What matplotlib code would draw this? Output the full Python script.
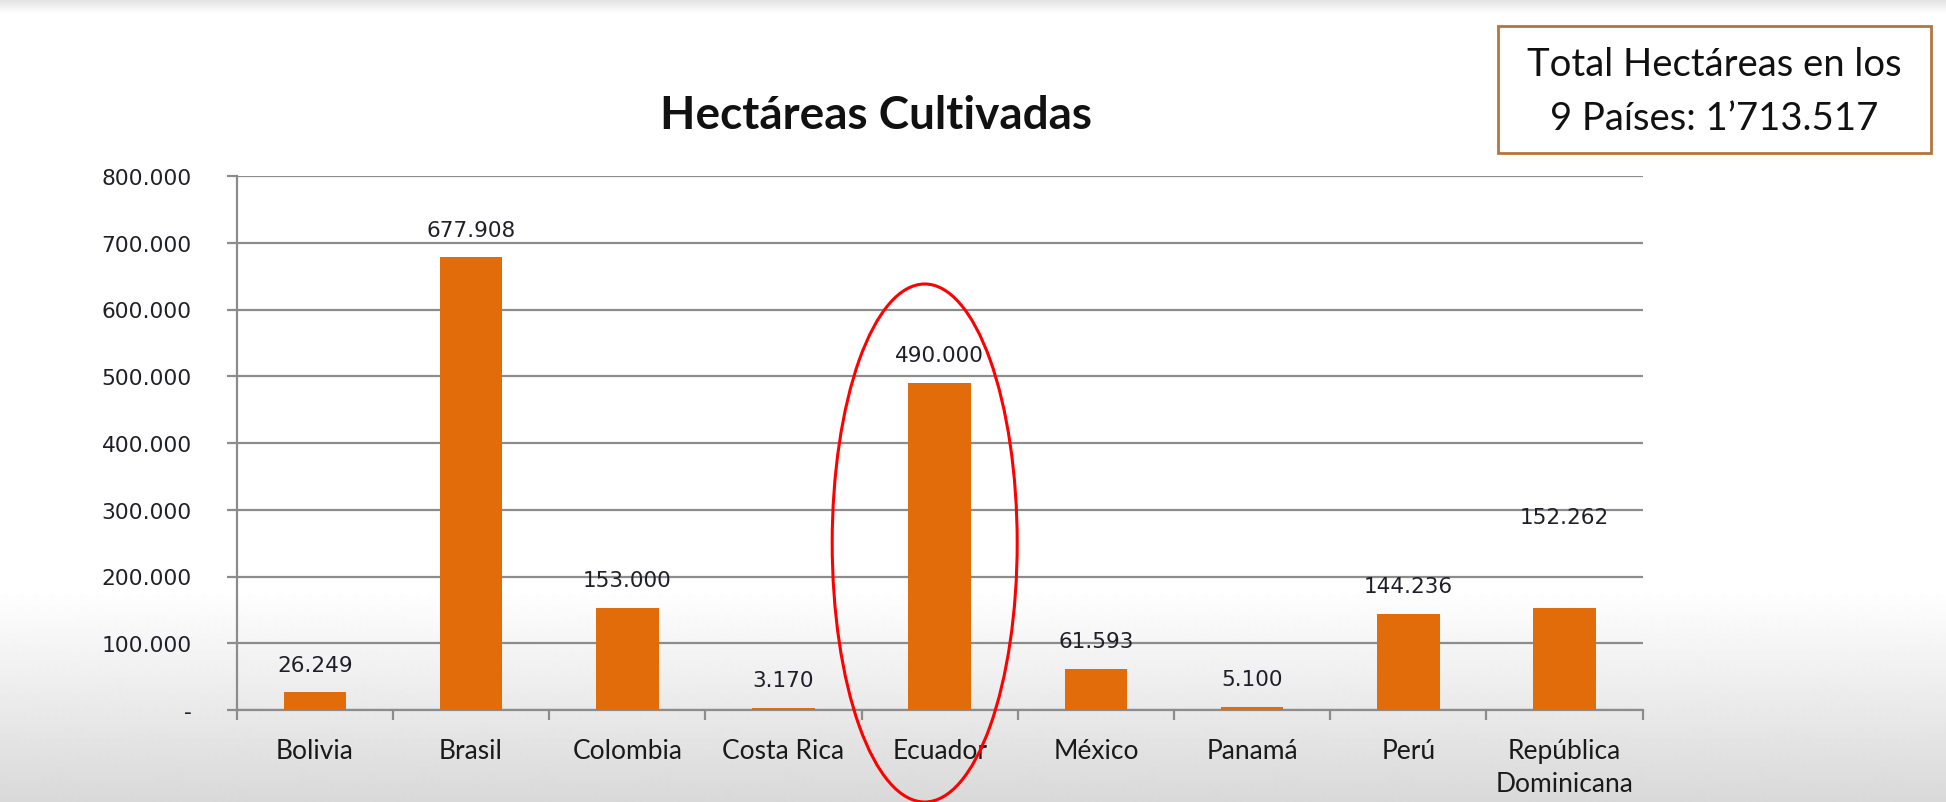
import numpy as np
import matplotlib
matplotlib.use("Agg")
import matplotlib.pyplot as plt
from matplotlib.patches import Ellipse, Rectangle

categories = ["Bolivia", "Brasil", "Colombia", "Costa Rica", "Ecuador",
              "México", "Panamá", "Perú", "República\nDominicana"]
values = [26249, 677908, 153000, 3170, 490000, 61593, 5100, 144236, 152262]
value_labels = ["26.249", "677.908", "153.000", "3.170", "490.000",
                "61.593", "5.100", "144.236", "152.262"]
yticks = [0, 100000, 200000, 300000, 400000, 500000, 600000, 700000, 800000]
ytick_labels = ["-", "100.000", "200.000", "300.000", "400.000",
                "500.000", "600.000", "700.000", "800.000"]
title = "Hectáreas Cultivadas"
box_text = "Total Hectáreas en los\n9 Países: 1’713.517"
highlight = "Ecuador"

W, H = 1946, 803
fig = plt.figure(figsize=(W / 100, H / 100), dpi=100)

# background gradient
bg = fig.add_axes([0, 0, 1, 1], zorder=-10)
rows = np.arange(H)
start = 590
t = np.clip((rows - start) / (H - start), 0, 1)
shade = 1 - 0.15 * t
top = np.clip(1 - rows / 14, 0, 1)
shade = shade - 0.12 * top
img = np.repeat(shade[:, None], 4, axis=1)
bg.imshow(img, cmap="gray", vmin=0, vmax=1, aspect="auto",
          extent=[0, 1, 0, 1], origin="upper", interpolation="bilinear")
bg.set_axis_off()

left, right = 236.7 / W, 1642.7 / W
bottom, topy = 1 - 711 / H, 1 - 177 / H
ax = fig.add_axes([left, bottom, right - left, topy - bottom])
ax.patch.set_alpha(0)

x = np.arange(len(categories))
bar_color = "#E36C0A"
ax.bar(x, values, width=0.40, color=bar_color, zorder=3)
ax.set_xlim(-0.5, len(categories) - 0.5)
ax.set_ylim(0, 800000)

grid_c = "#8c8c8c"
txt_c = "#1f1f2a"
ax.set_yticks(yticks)
ax.set_yticklabels(ytick_labels, fontfamily="DejaVu Sans", fontsize=15.7,
                   color=txt_c)
ax.yaxis.grid(True, color=grid_c, linewidth=1.6, zorder=1)
ax.tick_params(axis="y", length=7.2, width=1.6, color=grid_c, pad=25)

ax.set_xticks(np.arange(-0.5, len(categories), 1.0))
ax.set_xticklabels([])
ax.set_xticks(x, minor=True)
ax.set_xticklabels(categories, minor=True, fontfamily="Lato", fontsize=19,
                   color="#1a1a1a", linespacing=1.4)
ax.tick_params(axis="x", which="major", length=7.2, width=1.6, color=grid_c)
ax.tick_params(axis="x", which="minor", length=0, pad=20)

for s in ["top", "right"]:
    ax.spines[s].set_visible(False)
for s in ["left", "bottom"]:
    ax.spines[s].set_color(grid_c)
    ax.spines[s].set_linewidth(1.6)

offsets = [20] * len(values)
offsets[-1] = 66
for xi, v, lab, off in zip(x, values, value_labels, offsets):
    ax.annotate(lab, (xi, v), xytext=(0, off), textcoords="offset points",
                ha="center", va="center", fontfamily="DejaVu Sans",
                fontsize=15.5, color=txt_c, zorder=4)

# title
fig.text(876 / W, 1 - 116 / H, title, ha="center", va="center",
         fontfamily="Lato", fontweight="bold", fontsize=33, color="#111111")

# total box
bx0, by0, bx1, by1 = 1498 / W, 1 - 154 / H, 1931 / W, 1 - 27 / H
fig.patches.append(Rectangle((bx0, by0), bx1 - bx0, by1 - by0,
                             transform=fig.transFigure, facecolor="white",
                             edgecolor="#B5743F", linewidth=2))
fig.text((bx0 + bx1) / 2, (by0 + by1) / 2 - 0.002, box_text, ha="center",
         va="center", fontfamily="Lato", fontsize=27.5, color="#111111",
         linespacing=1.6)

# red ellipse around highlighted category
idx = categories.index(highlight)
fig.canvas.draw()
disp = ax.transData.transform((idx, 0))
cx = disp[0] - 15
ell = Ellipse((cx / W, 1 - 544 / H), width=185 / W, height=518 / H,
              transform=fig.transFigure, fill=False, edgecolor="#FF0000",
              linewidth=2.2, zorder=10)
fig.patches.append(ell)

fig.savefig("out.png", dpi=100)
